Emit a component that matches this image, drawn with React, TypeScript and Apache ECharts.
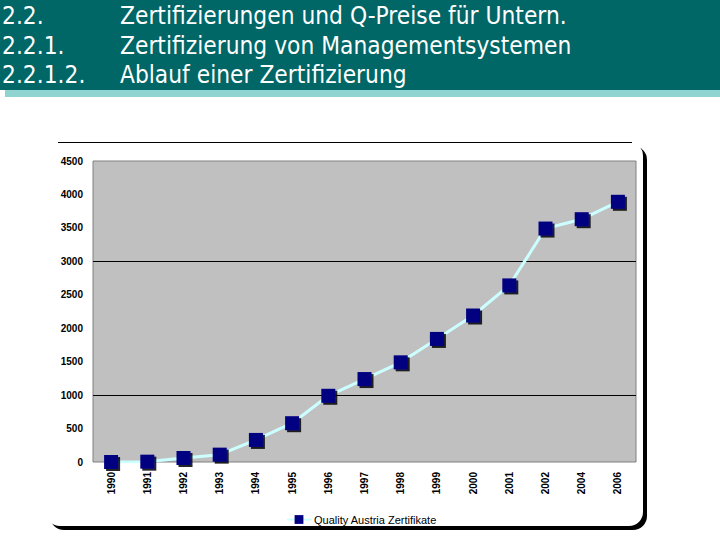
import React, { useEffect, useRef } from "react";
import * as echarts from "echarts";

const years = ["1990","1991","1992","1993","1994","1995","1996","1997","1998","1999","2000","2001","2002","2004","2006"];
const certificates = [0, 5, 60, 110, 330, 580, 990, 1240, 1490, 1840, 2190, 2640, 3490, 3630, 3890];
const gridValues = [1000, 3000];
const headerNumbers = ["2.2.", "2.2.1.", "2.2.1.2."];
const headerTitles = [
  "Zertifizierungen und Q-Preise für Untern.",
  "Zertifizierung von Managementsystemen",
  "Ablauf einer Zertifizierung",
];
const seriesName = "Quality Austria Zertifikate";

export default function App() {
  const ref = useRef<HTMLDivElement>(null);
  useEffect(() => {
    const chart = echarts.init(ref.current!, null, { renderer: "svg" });
    const headerFont = '"DejaVu Sans", sans-serif';
    const headerTexts: any[] = [];
    headerNumbers.forEach((n, i) => {
      headerTexts.push({
        type: "text", x: 2, y: 4 + i * 29.5, scaleX: 0.91,
        style: { text: n, fill: "#fff", font: `24px ${headerFont}` }, z: 10,
      });
      headerTexts.push({
        type: "text", x: 120, y: 4 + i * 29.5, scaleX: 0.91,
        style: { text: headerTitles[i], fill: "#fff", font: `24px ${headerFont}` }, z: 10,
      });
    });
    chart.setOption({
      animation: false,
      backgroundColor: "#fff",
      graphic: [
        { type: "rect", shape: { x: 0, y: 0, width: 720, height: 90 }, style: { fill: "#006666" }, z: 1 },
        { type: "rect", shape: { x: 5, y: 90, width: 715, height: 7 }, style: { fill: "#8fd4d0" }, z: 1 },
        ...headerTexts,
        { type: "rect", shape: { x: 50, y: 146, width: 597, height: 384, r: 14 }, style: { fill: "#000" }, z: -2 },
        { type: "rect", shape: { x: 46, y: 142, width: 597, height: 384, r: 14 }, style: { fill: "#fff" }, z: -1 },
        { type: "line", shape: { x1: 58, y1: 142.5, x2: 632, y2: 142.5 }, style: { stroke: "#000", lineWidth: 1 }, z: -1 },
      ],
      grid: {
        left: 93, top: 161, width: 543, height: 301,
        show: true, backgroundColor: "#c0c0c0", borderColor: "#808080", borderWidth: 1,
      },
      xAxis: {
        type: "category", data: years, boundaryGap: true,
        axisLine: { show: false },
        axisTick: { show: false },
        axisLabel: {
          rotate: 90, margin: 10, color: "#000", fontSize: 10, fontWeight: "bold",
          fontFamily: '"Liberation Sans", Arial, sans-serif', interval: 0,
        },
      },
      yAxis: {
        type: "value", min: 0, max: 4500, interval: 500,
        axisLine: { show: false }, axisTick: { show: false }, splitLine: { show: false },
        axisLabel: {
          margin: 10, color: "#000", fontSize: 10, fontWeight: "bold",
          fontFamily: '"Liberation Sans", Arial, sans-serif',
          formatter: (v: number) => String(v),
        },
      },
      legend: {
        left: 281, top: 509, itemWidth: 24, itemHeight: 11, itemGap: 5,
        textStyle: { fontSize: 11, color: "#000", fontFamily: '"Liberation Sans", Arial, sans-serif', padding: [0, 0, 0, -2] },
        data: [{ name: seriesName }],
      },
      series: [
        {
          name: seriesName, type: "line", data: certificates,
          symbol: "rect", symbolSize: 14,
          lineStyle: { color: "#ccffff", width: 3 },
          itemStyle: {
            color: "#000080", borderWidth: 0,
            shadowColor: "rgba(0,0,0,0.85)", shadowOffsetX: 2, shadowOffsetY: 2, shadowBlur: 1,
          },
          markLine: {
            silent: true, symbol: "none", label: { show: false },
            lineStyle: { color: "#000", width: 1, type: "solid" },
            data: gridValues.map((v) => ({ yAxis: v })),
            z: 1,
          },
          z: 3,
        },
      ],
    });
    return () => chart.dispose();
  }, []);
  return (
    <div
      ref={ref}
      style={{ position: "fixed", left: 0, top: 0, width: 720, height: 540 }}
    />
  );
}
